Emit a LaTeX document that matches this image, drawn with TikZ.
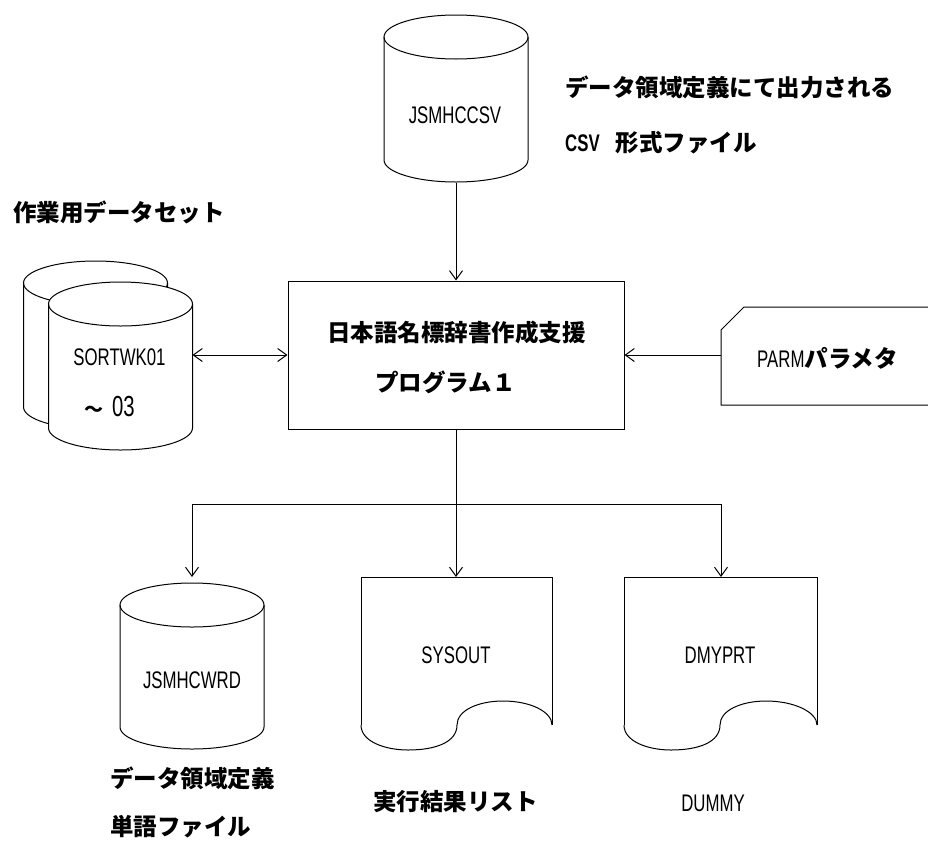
\documentclass[tikz,border=0pt]{standalone}
\usepackage{fontspec}
\usetikzlibrary{arrows.meta}
\newfontfamily\jpfont{Noto Sans CJK JP}
\newfontfamily\narfont{Liberation Sans}[FakeStretch=0.7]
\newcommand\jp{\jpfont\bfseries\fontsize{23.5}{28}\selectfont}
\newcommand\nar{\narfont\fontsize{24}{28}\selectfont}
\tikzset{
  shp/.style={line width=1pt, draw=black},
  conn/.style={line width=1pt},
  arr/.style={conn, -{Straight Barb[length=9pt, width=13pt, line width=1pt]}},
  arrboth/.style={conn, {Straight Barb[length=9pt, width=13pt, line width=1pt]}-{Straight Barb[length=9pt, width=13pt, line width=1pt]}},
  lbl/.style={inner sep=0pt, font=\jp},
  nlbl/.style={inner sep=0pt, font=\nar},
}
% cylinder: #1 centre x, #2 top ellipse centre y, #3 bottom ellipse centre y
\newcommand\mycyl[3]{%
  \fill[white] (#1-72,#2) -- (#1-72,#3) arc[start angle=180, end angle=360, x radius=72pt, y radius=22pt]
     -- (#1+72,#2) arc[start angle=0, end angle=180, x radius=72pt, y radius=22pt] -- cycle;
  \draw[shp] (#1,#2) ellipse[x radius=72pt, y radius=22pt];
  \draw[shp] (#1-72,#2) -- (#1-72,#3) arc[start angle=180, end angle=360, x radius=72pt, y radius=22pt] -- (#1+72,#2);
}
% document: #1 left x, #2 top y, #3 width
\newcommand\mydoc[3]{%
  \draw[shp] (#1,725) -- (#1,#2) -- (#1+#3,#2) -- (#1+#3,725);
  \draw[shp] (#1,725) .. controls (#1,742) and (#1+25,750) .. (#1+47,750)
     .. controls (#1+75,750) and (#1+96,742) .. (#1+96,725)
     .. controls (#1+96,710) and (#1+118,701) .. (#1+142,701)
     .. controls (#1+170,701) and (#1+#3,712) .. (#1+#3,725);
}
\begin{document}
\begin{tikzpicture}[x=1pt, y=-1pt]
\useasboundingbox (0,0) rectangle (928,841);

% JSMHCCSV cylinder
\mycyl{456}{37}{160}
\node[nlbl] (csv) at (455,115) {JSMHCCSV};
\coordinate (csvB) at (456,183);
\node[lbl, anchor=west] (csvt1) at (565,87) {データ領域定義にて出力される};
\node[lbl, anchor=west] (csvt2) at (565,143) {{\nar CSV}\hspace{16pt}形式ファイル};

% main box
\node[shp, minimum width=336pt, minimum height=148pt, inner sep=0pt] (box) at (456,355) {};
\node[lbl] (p1) at (456.5,333) {日本語名標辞書作成支援};
\node[lbl, anchor=west] (p2) at (375,382) {プログラム１};

% SORTWK cylinders
\node[lbl, anchor=west] (wk) at (13,212) {作業用データセット};
\mycyl{95.5}{283}{407}
\mycyl{120.5}{304}{428}
\node[nlbl] (sw1) at (119.5,357) {SORTWK01};
\node[inner sep=0pt, anchor=west] (sw2) at (84,407) {{\jpfont\bfseries\fontsize{19}{20}\selectfont ～}\hspace{9pt}{\narfont\fontsize{29}{30}\selectfont 03}};
\coordinate (swR) at (192.5,355);

% PARM
\draw[shp] (928,307) -- (744,307) -- (721,330) -- (721,405) -- (928,405);
\node[inner sep=0pt, anchor=west] (parm) at (757,358) {{\nar PARM}{\jp パラメタ}};
\coordinate (parmL) at (721,355);

% connectors to box
\draw[arr] (csvB) -- (box.north);
\draw[arrboth] (swR) -- (box.west);
\draw[arr] (parmL) -- (box.east);

% bottom connectors
\coordinate (j) at (456,504);
\coordinate (wrdA) at (192,577);
\coordinate (sysA) at (456,577);
\coordinate (dmyA) at (721,577);
\draw[conn] (box.south) -- (j);
\draw[arr] (j) -| (wrdA);
\draw[arr] (j) -- (sysA);
\draw[arr] (j) -| (dmyA);

% JSMHCWRD
\mycyl{192}{605}{727}
\node[nlbl] (wrd) at (192,680) {JSMHCWRD};
\node[lbl, anchor=west] (wrd1) at (110,778) {データ領域定義};
\node[lbl, anchor=west] (wrd2) at (110,827) {単語ファイル};

% SYSOUT
\mydoc{361}{577}{191}
\node[nlbl] (sys) at (456,655) {SYSOUT};
\node[lbl, anchor=west] (sys1) at (373,802) {実行結果リスト};

% DMYPRT
\mydoc{624}{577}{193}
\node[nlbl] (dmy) at (720,655) {DMYPRT};
\node[nlbl] (dummy) at (713,803) {DUMMY};
\end{tikzpicture}
\end{document}
